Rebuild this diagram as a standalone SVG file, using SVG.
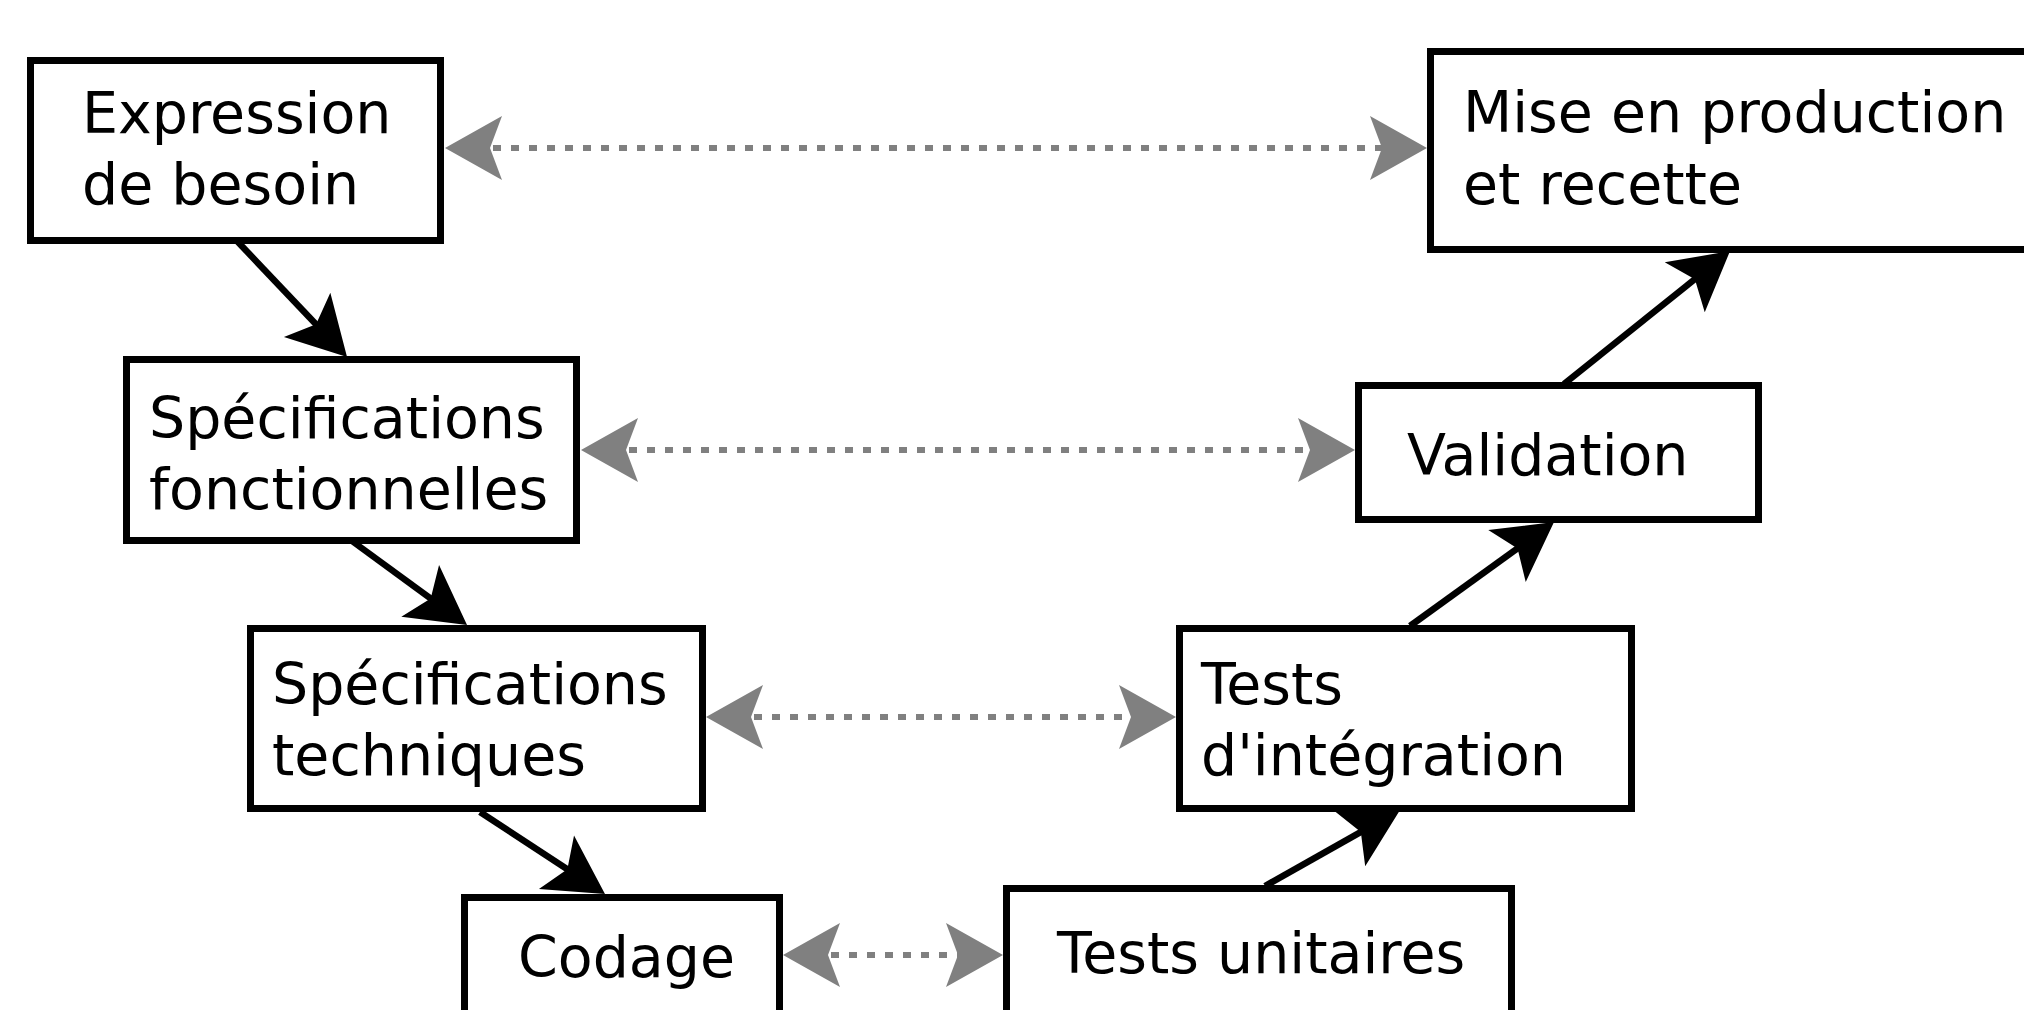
<svg xmlns="http://www.w3.org/2000/svg" width="2024" height="1010" viewBox="0 0 2024 1010">
<style>
.box{fill:#fff;stroke:#000;stroke-width:7}
.lbl{font-family:"DejaVu Sans","Liberation Sans",sans-serif;font-size:57px;fill:#000}
.flow{fill:none;stroke:#000;stroke-width:6.5;marker-end:url(#ah)}
.link{fill:none;stroke:#808080;stroke-width:6;stroke-dasharray:8 10;marker-start:url(#gh);marker-end:url(#gh)}
</style>
<defs>
<marker id="ah" markerUnits="userSpaceOnUse" orient="auto" refX="-30" refY="0" markerWidth="1" markerHeight="1" overflow="visible">
<path d="M0,0 L-58,-32 L-45,0 L-58,32 Z" fill="#000"/>
</marker>
<marker id="gh" markerUnits="userSpaceOnUse" orient="auto-start-reverse" refX="-30" refY="0" markerWidth="1" markerHeight="1" overflow="visible">
<path d="M0,0 L-57,-32 L-45,0 L-57,32 Z" fill="#808080"/>
</marker>
</defs>
<rect width="2024" height="1010" fill="#fff"/>
<g id="connectors">
<path class="flow" d="M237,241 L326.4,335.2"/>
<path class="flow" d="M352,541 L442.8,607.3"/>
<path class="flow" d="M480,812 L579.9,877.5"/>
<path class="flow" d="M1265,886 L1373.9,824.7"/>
<path class="flow" d="M1410,626 L1529.7,539.6"/>
<path class="flow" d="M1564,384 L1706.6,269.8"/>
<path class="link" d="M475,148 L1397,148"/>
<path class="link" d="M611,450 L1325,450"/>
<path class="link" d="M736,717 L1146,717"/>
<path class="link" d="M813,955 L973,955"/>
</g>
<g id="expression">
<rect class="box" x="30.5" y="60.5" width="410" height="180"/>
<text class="lbl" x="82" y="133">Expression</text>
<text class="lbl" x="82" y="204">de besoin</text>
</g>
<g id="mise">
<rect class="box" x="1430.5" y="51.5" width="700" height="198"/>
<text class="lbl" x="1463" y="132">Mise en production</text>
<text class="lbl" x="1463" y="204">et recette</text>
</g>
<g id="specfonc">
<rect class="box" x="126.5" y="359.5" width="450" height="181"/>
<text class="lbl" x="149" y="438">Spécifications</text>
<text class="lbl" x="149" y="509">fonctionnelles</text>
</g>
<g id="validation">
<rect class="box" x="1358.5" y="385.5" width="400" height="134"/>
<text class="lbl" x="1407" y="475">Validation</text>
</g>
<g id="spectech">
<rect class="box" x="250.5" y="628.5" width="452" height="180"/>
<text class="lbl" x="272" y="704">Spécifications</text>
<text class="lbl" x="272" y="775">techniques</text>
</g>
<g id="integration">
<rect class="box" x="1179.5" y="628.5" width="452" height="180"/>
<text class="lbl" x="1201" y="704">Tests</text>
<text class="lbl" x="1201" y="775">d'intégration</text>
</g>
<g id="codage">
<rect class="box" x="464.5" y="897.5" width="315" height="200"/>
<text class="lbl" x="518" y="977">Codage</text>
</g>
<g id="unitaires">
<rect class="box" x="1006.5" y="888.5" width="505" height="200"/>
<text class="lbl" x="1057" y="973">Tests unitaires</text>
</g>
</svg>
